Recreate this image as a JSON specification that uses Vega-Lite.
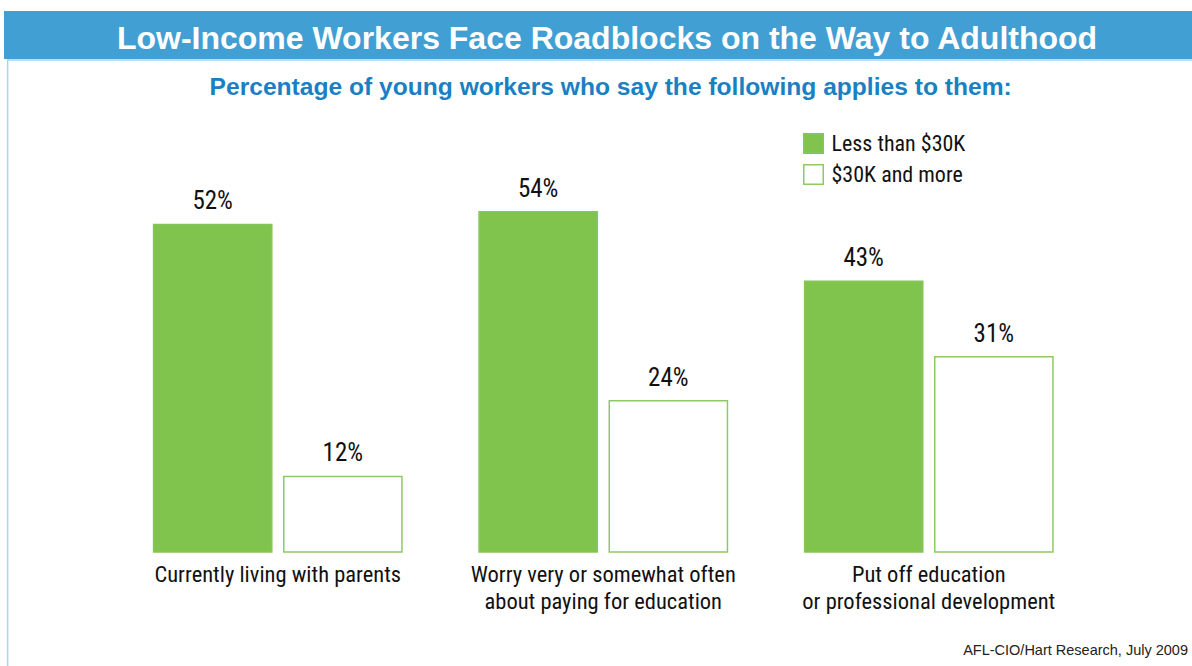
{
  "$schema": "https://vega.github.io/schema/vega-lite/v6.json",
  "autosize": {"type": "pad"},
  "padding": {"left": 4, "top": 11, "right": 0, "bottom": 0},
  "background": "white",
  "center": true,
  "spacing": 0,
  "config": {"view": {"stroke": null}},
  "title": {
    "text": "AFL-CIO/Hart Research, July 2009",
    "orient": "bottom",
    "anchor": "end",
    "frame": "bounds",
    "offset": -26,
    "dx": -12,
    "baseline": "alphabetic",
    "font": "Liberation Sans",
    "fontSize": 14.5,
    "fontWeight": "normal",
    "color": "#222222"
  },
  "vconcat": [
    {
      "width": 1196,
      "height": 48,
      "view": {"fill": "#419fd3", "stroke": null},
      "data": {"values": [{"t": "Low-Income Workers Face Roadblocks on the Way to Adulthood"}]},
      "mark": {"type": "text", "color": "white", "font": "Liberation Sans", "fontWeight": "bold", "fontSize": 32, "baseline": "middle", "dx": 5, "dy": 4},
      "encoding": {"text": {"field": "t"}}
    },
    {
      "width": 1188,
      "height": 620,
      "view": {"stroke": "#a9d3ee", "strokeWidth": 1.5, "fill": "white"},
      "title": {
        "text": "Percentage of young workers who say the following applies to them:",
        "orient": "top",
        "anchor": "middle",
        "offset": -60,
        "dx": 9,
        "baseline": "alphabetic",
        "font": "Liberation Sans",
        "fontSize": 24.6,
        "fontWeight": "bold",
        "color": "#1a80c4"
      },
      "data": {
        "values": [
          {"category": "Currently living with parents", "income": "Less than $30K", "pct": 52},
          {"category": "Currently living with parents", "income": "$30K and more", "pct": 12},
          {"category": "Worry very or somewhat often|about paying for education", "income": "Less than $30K", "pct": 54},
          {"category": "Worry very or somewhat often|about paying for education", "income": "$30K and more", "pct": 24},
          {"category": "Put off education|or professional development", "income": "Less than $30K", "pct": 43},
          {"category": "Put off education|or professional development", "income": "$30K and more", "pct": 31}
        ]
      },
      "encoding": {
        "x": {
          "field": "category",
          "type": "nominal",
          "sort": null,
          "scale": {"paddingInner": 0.237, "paddingOuter": 0.4434, "align": 0.5057},
          "axis": {
            "orient": "bottom",
            "offset": -128,
            "title": null,
            "domain": false,
            "ticks": false,
            "labelAngle": 0,
            "labelLimit": 0,
            "labelExpr": "split(datum.value, '|')",
            "labelFont": "Roboto Condensed, Liberation Sans Narrow, Roboto",
            "labelFontSize": 22.5,
            "labelLineHeight": 27.5,
            "labelColor": "#111111",
            "labelBaseline": "top",
            "labelPadding": 11
          }
        },
        "xOffset": {
          "field": "income",
          "type": "nominal",
          "sort": ["Less than $30K", "$30K and more"],
          "scale": {"paddingInner": 0.092, "paddingOuter": 0}
        },
        "y": {
          "field": "pct",
          "type": "quantitative",
          "scale": {"domain": [-20.3, 78.1], "nice": false, "zero": false},
          "axis": null
        }
      },
      "layer": [
        {
          "mark": {"type": "bar", "strokeWidth": 1.5},
          "encoding": {
            "y2": {"datum": 0},
            "fill": {
              "field": "income",
              "type": "nominal",
              "sort": ["Less than $30K", "$30K and more"],
              "scale": {"domain": ["Less than $30K", "$30K and more"], "range": ["#80c34d", "#ffffff"]},
              "legend": {
                "title": null,
                "orient": "none",
                "legendX": 798.5,
                "legendY": 121.5,
                "padding": 0,
                "symbolType": "square",
                "symbolSize": 380,
                "symbolStrokeWidth": 1.5,
                "rowPadding": 5,
                "labelFont": "Roboto Condensed, Liberation Sans Narrow, Roboto",
                "labelFontSize": 22,
                "labelColor": "#111111",
                "labelOffset": 7
              }
            },
            "stroke": {
              "field": "income",
              "type": "nominal",
              "sort": ["Less than $30K", "$30K and more"],
              "scale": {"domain": ["Less than $30K", "$30K and more"], "range": ["#86c659", "#8ec964"]},
              "legend": {
                "title": null,
                "orient": "none",
                "legendX": 798.5,
                "legendY": 121.5,
                "padding": 0,
                "symbolType": "square",
                "symbolSize": 380,
                "symbolStrokeWidth": 1.5,
                "rowPadding": 5,
                "labelFont": "Roboto Condensed, Liberation Sans Narrow, Roboto",
                "labelFontSize": 22,
                "labelColor": "#111111",
                "labelOffset": 7
              }
            }
          }
        },
        {
          "mark": {"type": "text", "baseline": "alphabetic", "dy": -15, "font": "Roboto Condensed, Liberation Sans Narrow, Roboto", "fontSize": 25, "color": "#111111", "text": {"expr": "datum.pct + '%'"}},
          "encoding": {
            "detail": {"field": "income"}
          }
        }
      ]
    }
  ]
}
